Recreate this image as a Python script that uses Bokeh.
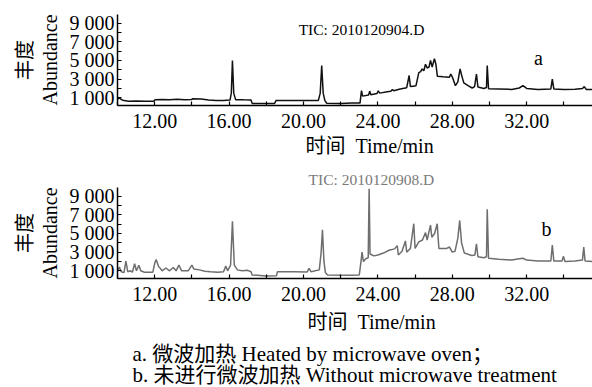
from bokeh.plotting import figure
from bokeh.models import FixedTicker, Label, Range1d, ColumnDataSource, LinearAxis, Title
from bokeh.layouts import column
from bokeh.embed import file_html
from bokeh.resources import INLINE

# ---------------- data ----------------
time_a = [10.0, 10.1, 10.2, 10.35, 10.6, 11.0, 11.5, 11.95, 12.02, 12.4, 12.8, 13.2, 13.6, 13.98,
          14.05, 14.5, 14.9, 15.3, 15.7, 16.05, 16.12, 16.18, 16.25, 16.35, 16.8, 17.18, 17.24,
          17.8, 18.45, 18.52, 19.2, 20.0, 20.8, 20.9, 20.98, 21.06, 21.15, 21.25, 22.0, 22.6,
          23.04, 23.08, 23.12, 23.18, 23.5, 23.56, 23.62, 23.95, 24.02, 24.1, 24.5, 24.7, 24.78,
          24.85, 25.2, 25.55, 25.68, 25.75, 25.9, 26.05, 26.2, 26.3, 26.38, 26.47, 26.56, 26.65,
          26.75, 26.83, 26.92, 27.04, 27.12, 27.2, 27.5, 27.85, 27.92, 28.0, 28.17, 28.3, 28.42,
          28.52, 28.62, 28.85, 29.07, 29.2, 29.3, 29.38, 29.7, 29.84, 29.88, 29.95, 30.5, 31.2,
          31.6, 31.8, 32.0, 32.6, 33.3, 33.38, 33.46, 34.0, 34.6, 35.0, 35.1, 35.2, 35.6]
abund_a = [850, 1000, 820, 700, 640, 660, 630, 640, 800, 830, 780, 840, 800, 820,
           900, 880, 760, 720, 700, 760, 1500, 5000, 1500, 800, 780, 770, 400,
           380, 400, 700, 720, 700, 720, 1500, 4460, 1500, 700, 420, 400, 430,
           430, 1140, 1780, 1180, 1300, 1720, 1320, 1450, 1750, 1500, 1650, 1700, 1900,
           1750, 1950, 2080, 3390, 2200, 2250, 2300, 3700, 3800, 4100, 3900, 4600, 4200,
           4300, 5000, 4300, 5200, 4600, 3300, 3250, 3200, 3550, 3250, 2300, 2700, 4100,
           3300, 2600, 2300, 2050, 2200, 3550, 2150, 2000, 2100, 4470, 1980, 1950, 1900,
           2050, 2300, 2000, 1900, 1950, 3000, 1950, 1900, 1920, 2000, 2200, 1900, 1880]

time_b = [10.0, 10.1, 10.2, 10.35, 10.45, 10.55, 10.7, 10.8, 10.92, 11.02, 11.15, 11.25, 11.45,
          11.9, 12.0, 12.08, 12.2, 12.4, 12.6, 12.8, 13.0, 13.15, 13.3, 13.45, 13.8, 14.0, 14.1,
          14.4, 14.7, 15.0, 15.4, 15.7, 15.82, 15.92, 16.08, 16.18, 16.28, 16.45, 16.7, 17.0,
          17.18, 17.24, 18.0, 18.55, 18.6, 19.5, 20.2, 20.3, 20.4, 20.85, 20.95, 21.02, 21.1,
          21.18, 21.3, 22.5, 23.0, 23.08, 23.15, 23.22, 23.35, 23.48, 23.53, 23.58, 23.78, 24.0,
          24.3, 24.6, 24.9, 25.04, 25.1, 25.3, 25.48, 25.55, 25.75, 25.93, 26.0, 26.2, 26.4,
          26.56, 26.65, 26.83, 26.9, 27.05, 27.19, 27.28, 27.7, 27.85, 28.0, 28.15, 28.3, 28.4,
          28.5, 28.65, 29.05, 29.22, 29.3, 29.38, 29.7, 29.84, 29.88, 29.95, 30.5, 31.2, 31.6,
          31.8, 32.0, 32.6, 33.3, 33.38, 33.46, 33.9, 33.98, 34.06, 34.6, 35.0, 35.07, 35.14, 35.6]
abund_b = [900, 1400, 900, 800, 2050, 900, 1000, 850, 1750, 1000, 1600, 1000, 850,
           850, 1800, 2200, 1500, 1000, 1300, 1000, 1350, 1000, 1600, 1000, 1000, 1600, 1200,
           1100, 950, 900, 850, 900, 1500, 1000, 1600, 6300, 1600, 1100, 1000, 1050,
           900, 550, 450, 480, 900, 900, 880, 1250, 900, 1100, 3000, 5400, 2000,
           800, 550, 520, 560, 1800, 3000, 2000, 2300, 2400, 9800, 2800, 2600, 2700,
           2900, 3200, 3350, 3700, 2700, 3100, 4200, 3000, 3400, 6050, 3400, 4100, 4300,
           5100, 4300, 5900, 4600, 5000, 6050, 3400, 3400, 3550, 3000, 3100, 4500, 6400,
           4000, 2900, 2650, 2700, 3900, 2500, 2400, 2500, 7600, 2350, 2250, 2150, 2300,
           2350, 2150, 2050, 2050, 3750, 2050, 2050, 2550, 2000, 2050, 2150, 3550, 2050, 2000]

x_major = [12, 16, 20, 24, 28, 32]
x_minor = [10, 14, 18, 22, 26, 30, 34]
x_labels = ["12.00", "16.00", "20.00", "24.00", "28.00", "32.00"]
y_major = [1000, 3000, 5000, 7000, 9000]
y_minor = [2000, 4000, 6000, 8000]
y_labels = ["1 000", "3 000", "5 000", "7 000", "9 000"]

X_START, X_END = 10.0, 35.54
Y_START, Y_END = 174, 9933

SERIF = "Liberation Serif, Noto Sans CJK SC"


def data_label(p, x, y, text, size="20px", color="black"):
    p.add_layout(Label(x=x, y=y, text=text, text_font=SERIF, text_font_size=size,
                       text_color=color, text_align="center", text_baseline="middle"))


def side_title(p, place, text, offset, size="20px", color="black", standoff=0, align="left"):
    p.add_layout(Title(text=text, align=align, offset=offset, text_font=SERIF,
                       text_font_size=size, text_font_style="normal", text_color=color,
                       standoff=standoff), place)


def panel(t, v, color, top_border, bottom_border):
    p = figure(frame_width=475, frame_height=91, output_backend="svg", toolbar_location=None,
               x_range=Range1d(X_START, X_END), y_range=Range1d(Y_START, Y_END),
               min_border_left=117, min_border_right=0,
               min_border_top=top_border, min_border_bottom=bottom_border)
    p.outline_line_color = None
    p.xgrid.visible = False
    p.ygrid.visible = False
    src = ColumnDataSource(dict(t=t, v=v))
    p.line("t", "v", source=src, line_color=color, line_width=1.5)

    p.xaxis.ticker = FixedTicker(ticks=x_major, minor_ticks=x_minor)
    p.xaxis.major_label_overrides = {k: s for k, s in zip(x_major, x_labels)}
    p.yaxis.ticker = FixedTicker(ticks=y_major, minor_ticks=y_minor)
    p.yaxis.major_label_overrides = {k: s for k, s in zip(y_major, y_labels)}
    for ax in (p.xaxis[0], p.yaxis[0]):
        ax.axis_line_color = "black"
        ax.axis_line_width = 1.5
        ax.major_tick_in = 4
        ax.major_tick_out = 0
        ax.minor_tick_in = 4
        ax.minor_tick_out = 0
        ax.major_tick_line_color = "black"
        ax.minor_tick_line_color = "black"
        ax.major_tick_line_width = 1.2
        ax.minor_tick_line_width = 1.2
        ax.major_label_text_font = SERIF
        ax.major_label_text_font_size = "20px"
        ax.major_label_text_color = "black"
    p.xaxis.major_label_standoff = 8
    p.yaxis.major_label_standoff = 3
    p.yaxis.axis_label = "Abundance"
    p.yaxis.axis_label_text_font = SERIF
    p.yaxis.axis_label_text_font_size = "20px"
    p.yaxis.axis_label_text_font_style = "normal"
    p.yaxis.axis_label_text_color = "black"
    p.yaxis.axis_label_standoff = 6

    extra = LinearAxis(ticker=FixedTicker(ticks=[]), axis_line_color=None,
                       major_tick_line_color=None, minor_tick_line_color=None,
                       major_label_text_font_size="0px", axis_label="丰度",
                       axis_label_text_font=SERIF, axis_label_text_font_size="20px",
                       axis_label_text_font_style="normal", axis_label_text_color="black",
                       axis_label_standoff=0)
    p.add_layout(extra, "left")
    return p


# top panel
pa = panel(time_a, abund_a, "#111111", 14, 60)
data_label(pa, 23.12, 8325, "TIC: 2010120904.D", size="15.5px")
data_label(pa, 32.63, 5215, "a")
side_title(pa, "below", "时间\u2002Time/min", 188, standoff=5)

# bottom panel
pb = panel(time_b, abund_b, "#6e6e6e", 22, 109)
side_title(pb, "above", "TIC: 2010120908.D", 191, size="15.5px", color="#7a7a7a", standoff=0)
data_label(pb, 33.06, 5536, "b")
side_title(pb, "below", "时间\u2002Time/min", 190, standoff=10)
side_title(pb, "below", "a. 微波加热 Heated by microwave oven；", 15, size="21px", standoff=4)
side_title(pb, "below", "b. 未进行微波加热 Without microwave treatment", 15, size="21px", standoff=-13)

layout = column(pa, pb, spacing=0)
open("out.html", "w").write(file_html(layout, INLINE))
